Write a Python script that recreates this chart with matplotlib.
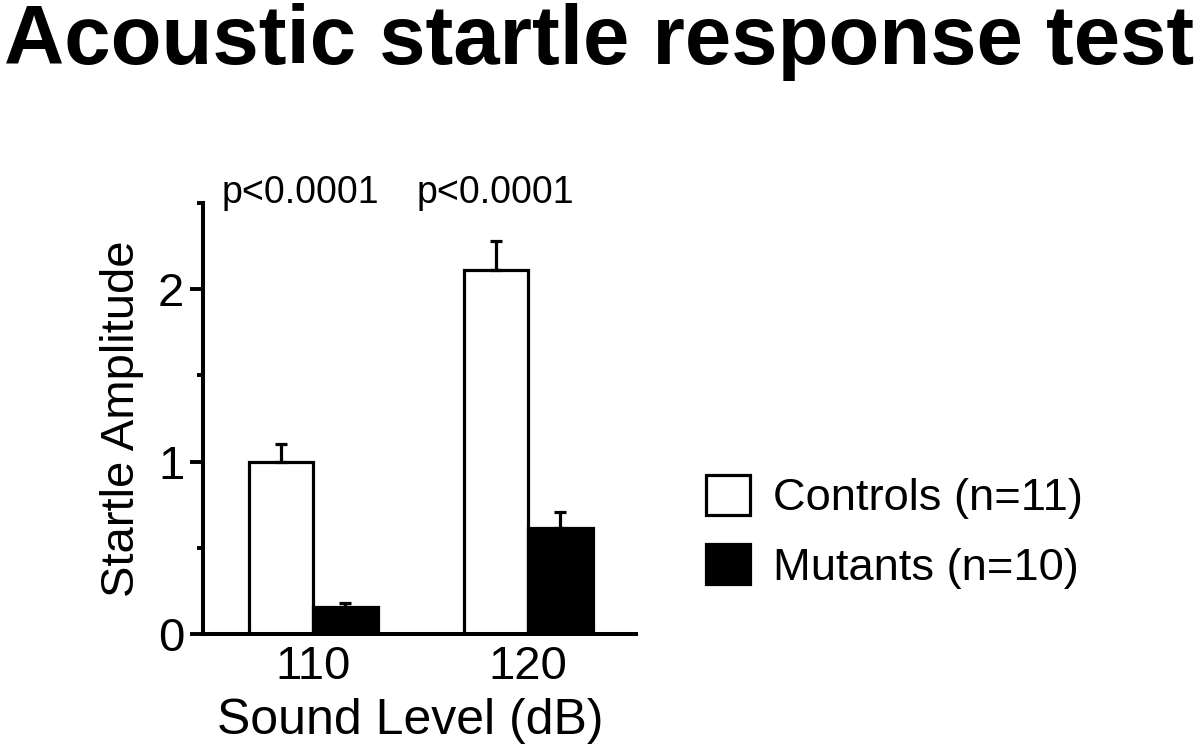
import matplotlib
matplotlib.use("Agg")
import matplotlib.pyplot as plt
import numpy as np

plt.rcParams['font.family'] = ['Liberation Sans', 'DejaVu Sans']

# values
levels = ['110', '120']
controls_mean = [1.0, 2.11]
controls_sem = [0.10, 0.17]
mutants_mean = [0.157, 0.615]
mutants_sem = [0.025, 0.092]
p_labels = ['p<0.0001', 'p<0.0001']
series_labels = ['Controls (n=11)', 'Mutants (n=10)']

fig = plt.figure(figsize=(12, 7.52), dpi=100)
ax = fig.add_axes([203 / 1200, 1 - 634 / 752, 433 / 1200, 431 / 752])

x = np.arange(len(levels))
width = 0.30
lw = 2.3

bars_c = ax.bar(x - width / 2, controls_mean, width, facecolor='white',
                edgecolor='black', linewidth=lw, label=series_labels[0], zorder=2)
bars_m = ax.bar(x + width / 2, mutants_mean, width, facecolor='black',
                edgecolor='black', linewidth=lw, label=series_labels[1], zorder=2)

# upper-only error bars
for pos, mean, sem in [(x - width / 2, controls_mean, controls_sem),
                       (x + width / 2, mutants_mean, mutants_sem)]:
    ax.errorbar(pos, mean, yerr=[np.zeros(len(sem)), sem], fmt='none',
                ecolor='black', elinewidth=lw, capsize=4.5, capthick=lw, zorder=3)

# p-values above groups
p_x = [-0.06, 0.847]
for px, txt in zip(p_x, p_labels):
    ax.text(px, 2.5, txt, ha='center', va='baseline', fontsize=27)

ax.set_xlim(-0.512, 1.502)
ax.set_ylim(0, 2.5)
ax.set_xticks(x)
ax.set_xticklabels(levels, fontsize=34)
ax.tick_params(axis='x', length=0, pad=8)
ax.set_yticks([0, 1, 2])
ax.set_yticks([0.5, 1.5, 2.5], minor=True)
ax.tick_params(axis='y', which='major', length=9.5, width=2.8, labelsize=34, pad=4)
ax.tick_params(axis='y', which='minor', length=4.5, width=2.8)

for s in ['top', 'right']:
    ax.spines[s].set_visible(False)
for s in ['left', 'bottom']:
    ax.spines[s].set_linewidth(2.9)

ax.set_ylabel('Startle Amplitude', fontsize=34)
ax.yaxis.set_label_coords(-0.136, 0.5)
ax.set_xlabel('Sound Level (dB)', fontsize=36)
ax.xaxis.set_label_coords((410 - 203) / 433, -0.148)

leg = ax.legend(handles=[bars_c, bars_m], loc='upper left',
                bbox_to_anchor=(706 / 1200, 1 - 475 / 752),
                bbox_transform=fig.transFigure, frameon=False, fontsize=32.6,
                handlelength=0.97, handleheight=0.97, handletextpad=0.5,
                labelspacing=0.55, borderpad=0, borderaxespad=0)

fig.text(0.003, 1 - 64 / 752, 'Acoustic startle response test',
         fontsize=60, fontweight='bold', ha='left', va='baseline')

fig.savefig('out.png', dpi=100)
